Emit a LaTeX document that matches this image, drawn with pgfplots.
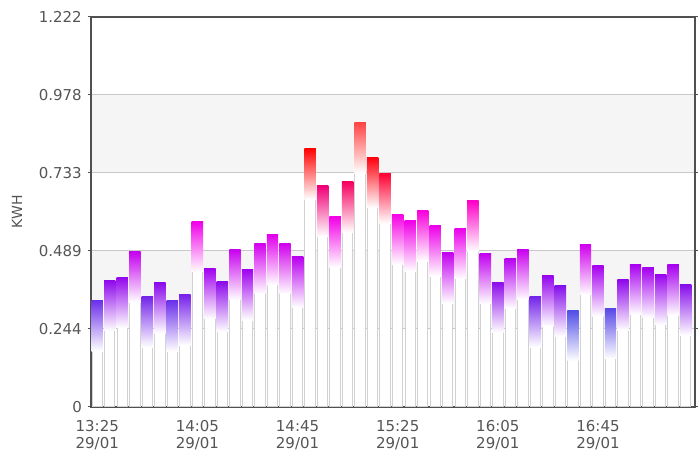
\documentclass[border=0pt]{standalone}
\usepackage{fontspec}
\setmainfont{DejaVu Sans}
\usepackage{pgfplots}
\usepackage{pgfplotstable}
\pgfplotsset{compat=1.18}
\definecolor{txt}{RGB}{85,85,85}
\definecolor{axisgrey}{RGB}{80,80,80}
\definecolor{gridgrey}{RGB}{200,200,200}
\definecolor{bandgrey}{RGB}{245,245,245}
\definecolor{barline}{RGB}{210,210,210}

\pgfplotstableread{
idx kwh
0 0.332
1 0.395
2 0.405
3 0.485
4 0.344
5 0.388
6 0.331
7 0.350
8 0.580
9 0.433
10 0.392
11 0.492
12 0.429
13 0.511
14 0.539
15 0.511
16 0.469
17 0.807
18 0.691
19 0.594
20 0.704
21 0.889
22 0.781
23 0.731
24 0.603
25 0.582
26 0.614
27 0.567
28 0.482
29 0.559
30 0.645
31 0.480
32 0.390
33 0.465
34 0.493
35 0.344
36 0.410
37 0.378
38 0.301
39 0.508
40 0.441
41 0.308
42 0.397
43 0.446
44 0.436
45 0.414
46 0.444
47 0.381
}\kwhdata

\begin{document}
\begin{tikzpicture}
\begin{axis}[
  name=ax, set layers,
  scale only axis, width=604pt, height=390pt,
  xmin=-0.5, xmax=47.75, ymin=0, ymax=1.222,
  axis line style={draw=axisgrey, line width=2pt},
  xtick={0,8,16,24,32,40},
  xticklabels={{13:25\\29/01},{14:05\\29/01},{14:45\\29/01},{15:25\\29/01},{16:05\\29/01},{16:45\\29/01}},
  xtick style={draw=none},
  ytick={0,0.2444,0.4888,0.7332,0.9776,1.222},
  yticklabels={0,0.244,0.489,0.733,0.978,1.222},
  ytick style={draw=axisgrey, line width=1pt},
  tick align=outside, major tick length=3pt,
  ymajorgrids, grid style={draw=gridgrey, line width=1pt},
  tick label style={font=\fontsize{15}{17.5}\selectfont, text=txt},
  xticklabel style={align=center, inner sep=0pt, yshift=-10pt},
  yticklabel style={inner sep=0pt, xshift=-6pt},
  ylabel={KWH},
  every axis y label/.style={at={(axis description cs:-0.1225,0.5)}, rotate=90, anchor=center, font=\fontsize{14}{16}\selectfont, text=txt},
  colormap={kwh}{rgb255(300)=(80,80,230) rgb255(340)=(115,40,235) rgb255(390)=(140,10,235) rgb255(440)=(165,0,240) rgb255(490)=(200,0,240) rgb255(560)=(235,0,235) rgb255(600)=(245,0,230) rgb255(645)=(255,0,200) rgb255(690)=(240,0,120) rgb255(730)=(255,0,50) rgb255(800)=(255,0,0) rgb255(890)=(255,70,70)},
  point meta min=0.3, point meta max=0.89,
]
\begin{pgfonlayer}{axis background}
\fill[bandgrey] (axis cs:-0.5,0.2444) rectangle (axis cs:47.75,0.4888);
\fill[bandgrey] (axis cs:-0.5,0.7332) rectangle (axis cs:47.75,0.9776);
\end{pgfonlayer}
\addplot[ybar, bar width=10.4pt, bar shift=0pt, fill=white, draw=barline, line width=1pt] table[x=idx,y=kwh]{\kwhdata};
\addplot[scatter, only marks, point meta=y, mark=*, mark size=0pt,
  draw=none, mark options={draw=none, fill=none},
  scatter/@pre marker code/.code={%
    \pgfplotscolormapdefinemappedcolor{\pgfplotspointmetatransformed}%
    \shade[draw=none, top color=mapped color, bottom color=white] (-5.7pt,0.5pt) rectangle (5.7pt,-50pt);%
  },
  scatter/@post marker code/.code={},
] table[x=idx,y=kwh]{\kwhdata};
\end{axis}
\pgfresetboundingbox
\path ([xshift=-91pt,yshift=-53pt]ax.south west) rectangle ([xshift=5pt,yshift=17pt]ax.north east);
\end{tikzpicture}
\end{document}
